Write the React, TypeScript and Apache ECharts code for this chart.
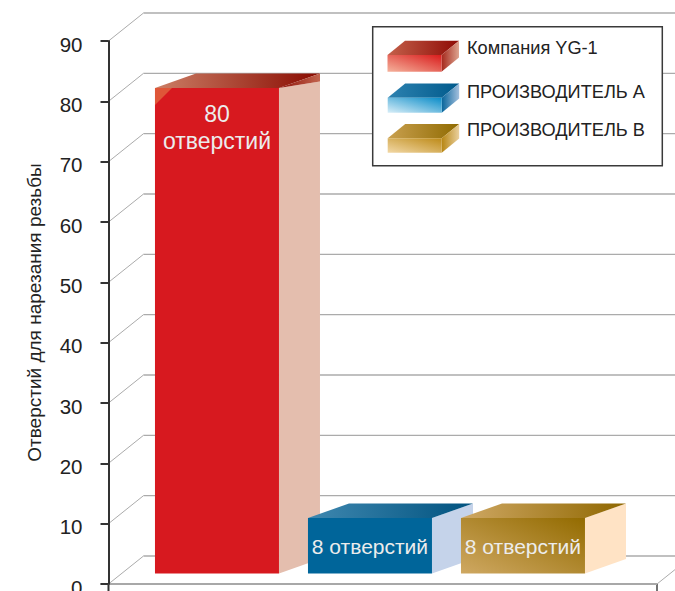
import React, { useEffect, useRef } from "react";
import * as echarts from "echarts";

const categories = ["Компания YG-1", "ПРОИЗВОДИТЕЛЬ A", "ПРОИЗВОДИТЕЛЬ B"];
const values = [80, 8, 8];
const barLabels = ["80\nотверстий", "8 отверстий", "8 отверстий"];
const tickValues = [0, 10, 20, 30, 40, 50, 60, 70, 80, 90];
const axisTitle = "Отверстий для нарезания резьбы";

const FONT = '"Liberation Sans", Arial, sans-serif';
const lg = (x: number, y: number, x2: number, y2: number, a: string, b: string) =>
  new echarts.graphic.LinearGradient(x, y, x2, y2, [
    { offset: 0, color: a },
    { offset: 1, color: b },
  ]);

const barStyles = [
  { front: () => "#D7191F", top: () => lg(0, 0.5, 1, 0.5, "#CC7F66", "#890A00"), side: "#E4BEAE" },
  { front: () => "#00659A", top: () => lg(0, 0.5, 1, 0.5, "#3F88B0", "#00527F"), side: "#C5D3EA" },
  { front: () => lg(0, 1, 1, 0, "#CFA862", "#936B00"), top: () => lg(0, 0.5, 1, 0.5, "#CFA864", "#8F6700"), side: "#FFE3C5" },
];
const legendStyles = [
  { front: ["#F5B29C", "#D91C1C"], top: ["#C4604A", "#8E0B05"], side: ["#A5281C", "#DDA590"] },
  { front: ["#D8EEF8", "#0A8CC8"], top: ["#2D82B0", "#005A8C"], side: ["#08659B", "#A4C0DE"] },
  { front: ["#F2D8A6", "#BD8A18"], top: ["#C9A04F", "#8F6A00"], side: ["#B78613", "#EAD09E"] },
];

const BAR_WIDTH = 124;
const DEPTH_X = 41;
const DEPTH_Y = 14.5;
const BAR_BASE = -1.29;
const WALL_X = 35;
const WALL_Y = 28;
const GRID_LINE = "#ABABAB";

function poly(points: number[][], fill: any, z2 = 0) {
  return { type: "polygon", shape: { points }, style: { fill }, z2 };
}

function legendSwatch(i: number, x: number, yTop: number, yBottom: number) {
  const s = legendStyles[i];
  const dx = 17.5;
  const dy = 14.2;
  const w = 54;
  return [
    { type: "polygon", z: 21, shape: { points: [[x, yTop], [x + dx, yTop - dy], [x + w + dx, yTop - dy], [x + w, yTop]] }, style: { fill: lg(0, 0.5, 1, 0.5, s.top[0], s.top[1]) } },
    { type: "polygon", z: 21, shape: { points: [[x + w, yTop], [x + w + dx, yTop - dy], [x + w + dx, yBottom - dy], [x + w, yBottom]] }, style: { fill: lg(0, 0.5, 1, 0.5, s.side[0], s.side[1]) } },
    { type: "rect", z: 21, shape: { x, y: yTop, width: w, height: yBottom - yTop }, style: { fill: lg(0, 1, 1, 0, s.front[0], s.front[1]) } },
  ];
}

export default function App() {
  const ref = useRef<HTMLDivElement>(null);
  useEffect(() => {
    document.body.style.margin = "0";
    const chart = echarts.init(ref.current!, undefined, { renderer: "svg" });

    const legendY = [48, 92, 130];
    const swatches = [
      [387.5, 55, 71.7],
      [387.7, 97.7, 112.7],
      [387.7, 138.3, 152.7],
    ];

    chart.setOption({
      animation: false,
      textStyle: { fontFamily: FONT },
      grid: { left: 108.5, right: 18, top: 41, bottom: 7, containLabel: false, outerBoundsMode: "none" },
      xAxis: {
        type: "value",
        min: 0.291,
        max: 3.876,
        axisLine: { show: false },
        axisTick: { show: false },
        axisLabel: { show: false },
        splitLine: { show: false },
      },
      yAxis: [
        {
          type: "value",
          min: 0,
          max: 90,
          interval: 10,
          name: axisTitle,
          nameLocation: "middle",
          nameGap: 65,
          nameRotate: 90,
          nameTextStyle: { fontSize: 19, color: "#222", fontFamily: FONT, padding: 0 },
          axisLine: { show: true, lineStyle: { color: "#333", width: 2 } },
          axisTick: { show: true, length: 8, lineStyle: { color: "#333", width: 2 } },
          axisLabel: {
            margin: 26,
            formatter: (v: number) => `{t|${v}}`,
            rich: { t: { fontSize: 20.5, color: "#222", fontFamily: FONT, padding: [6, 0, 0, 0] } },
          },
          splitLine: { show: false },
          z: 4,
        },
        {
          type: "value",
          min: -3.05,
          max: 87.87,
          show: false,
          splitLine: { show: false },
        },
      ],
      series: [
        {
          type: "custom",
          name: "wall",
          silent: true,
          z: 1,
          clip: false,
          data: tickValues.map((v) => [1, v]),
          renderItem: (params: any, api: any) => {
            const cs = params.coordSys;
            const v = api.value(1);
            const y = api.coord([1, v])[1];
            const right = cs.x + cs.width;
            const children: any[] = [
              { type: "line", shape: { x1: cs.x, y1: y, x2: cs.x + WALL_X, y2: y - WALL_Y }, style: { stroke: GRID_LINE, lineWidth: 1 } },
              { type: "line", shape: { x1: cs.x + WALL_X, y1: y - WALL_Y, x2: 675, y2: y - WALL_Y }, style: { stroke: GRID_LINE, lineWidth: 1.3 } },
            ];
            if (v === 0) {
              children.push(
                { type: "line", shape: { x1: right, y1: y, x2: right + 18, y2: y - 14.4 }, style: { stroke: GRID_LINE, lineWidth: 1 } },
                { type: "line", z2: 9, shape: { x1: cs.x, y1: y, x2: cs.x, y2: 591 }, style: { stroke: "#333", lineWidth: 2 } },
                { type: "line", z2: 9, shape: { x1: right, y1: y, x2: right, y2: 591 }, style: { stroke: "#444", lineWidth: 1.5 } },
                { type: "line", z2: 10, shape: { x1: cs.x - 8, y1: y, x2: right, y2: y }, style: { stroke: "#A8A8A8", lineWidth: 2 } },
              );
            }
            return { type: "group", children };
          },
        },
        {
          type: "custom",
          name: "bars",
          yAxisIndex: 1,
          z: 5,
          clip: false,
          data: values.map((v, i) => [i + 1, v, i]),
          renderItem: (_: any, api: any) => {
            const i = api.value(2);
            const s = barStyles[i];
            const [cx, top] = api.coord([api.value(0), api.value(1)]);
            const bottom = api.coord([api.value(0), BAR_BASE])[1];
            const l = cx - BAR_WIDTH / 2;
            const r = cx + BAR_WIDTH / 2;
            const tall = i === 0;
            const sideTop = tall ? top - DEPTH_Y + 8 : top - DEPTH_Y;
            const children: any[] = [
              poly([[r, top], [r + DEPTH_X, sideTop], [r + DEPTH_X, bottom - DEPTH_Y], [r, bottom]], s.side),
              poly([[l, top], [l + DEPTH_X, top - DEPTH_Y], [r + DEPTH_X, top - DEPTH_Y], [r, top]], s.top()),
              { type: "rect", shape: { x: l, y: top, width: BAR_WIDTH, height: bottom - top }, style: { fill: s.front() } },
            ];
            if (tall) {
              children.push(
                poly([[r, top], [r + DEPTH_X, top - DEPTH_Y], [r + DEPTH_X, sideTop]], lg(0, 0.5, 1, 0.5, "#8E1208", "#C2644E")),
                poly([[l, top], [l + 17, top], [l, top + 17]], "#DF5638"),
              );
            }
            children.push({
              type: "text",
              z2: 5,
              style: {
                text: barLabels[i],
                x: cx,
                y: tall ? top + 39 : (top + bottom) / 2 + 1,
                align: "center",
                verticalAlign: "middle",
                fontSize: tall ? 23 : 21,
                lineHeight: 27,
                fontFamily: FONT,
                fill: "#ECECEC",
              },
            });
            return { type: "group", children };
          },
        },
      ],
      graphic: [
        { type: "rect", z: 20, shape: { x: 372.7, y: 26.7, width: 289.6, height: 139 }, style: { fill: "#fff", stroke: "#3A3A3A", lineWidth: 1.5 } },
        ...categories.flatMap((_, i) => legendSwatch(i, swatches[i][0], swatches[i][1], swatches[i][2])),
        ...categories.map((c, i) => ({
          type: "text",
          z: 21,
          style: { text: c, x: 467, y: legendY[i], verticalAlign: "middle", fontSize: 18.2, fontFamily: FONT, fill: "#222" },
        })),
      ],
    });
    return () => chart.dispose();
  }, []);
  return <div ref={ref} style={{ width: 675, height: 591, display: "block", overflow: "hidden" }} />;
}
